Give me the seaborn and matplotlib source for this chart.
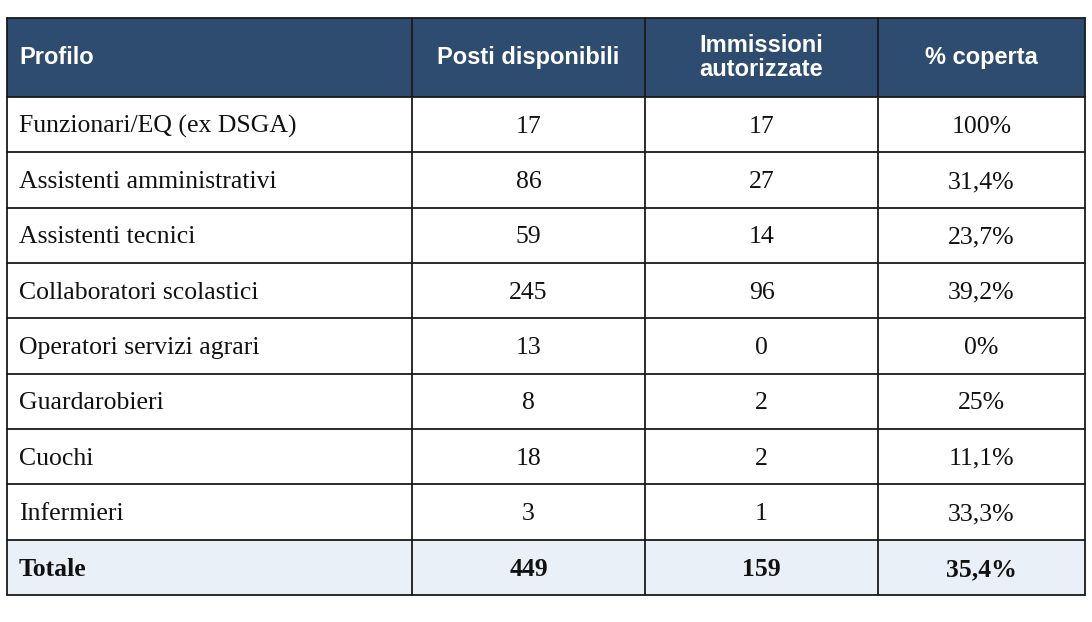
import matplotlib
matplotlib.use("Agg")
import matplotlib.pyplot as plt
import seaborn as sns
from matplotlib.patches import Rectangle

sns.set_theme(style="white")

headers = ["Profilo", "Posti disponibili", "Immissioni\nautorizzate", "% coperta"]
profili = ["Funzionari/EQ (ex DSGA)", "Assistenti amministrativi", "Assistenti tecnici",
           "Collaboratori scolastici", "Operatori servizi agrari", "Guardarobieri",
           "Cuochi", "Infermieri"]
posti = [17, 86, 59, 245, 13, 8, 18, 3]
immissioni = [17, 27, 14, 96, 0, 2, 2, 1]
coperta = ["100%", "31,4%", "23,7%", "39,2%", "0%", "25%", "11,1%", "33,3%"]
totale = ["Totale", "449", "159", "35,4%"]

W, H = 1092, 622
fig = plt.figure(figsize=(W / 100, H / 100), dpi=100)
ax = fig.add_axes([0, 0, 1, 1])
ax.set_xlim(0, W)
ax.set_ylim(H, 0)
ax.axis("off")

cols = [7, 412, 645, 878, 1085]
top, head_bot, bot = 18, 97, 595
nrows = len(profili) + 1
rh = (bot - head_bot) / nrows
header_c = "#2E4B70"
total_c = "#EAF0F7"
line_c = "#1a1a1a"

ax.add_patch(Rectangle((cols[0], top), cols[-1] - cols[0], head_bot - top, facecolor=header_c, edgecolor="none"))
ax.add_patch(Rectangle((cols[0], head_bot + rh * (nrows - 1)), cols[-1] - cols[0], rh, facecolor=total_c, edgecolor="none"))

for i, h in enumerate(headers):
    kw = dict(va="center", color="white", fontsize=17, fontweight="bold",
              family="Liberation Sans", linespacing=1.05)
    if i == 0:
        ax.text(cols[0] + 12, (top + head_bot) / 2, h, ha="left", **kw)
    else:
        ax.text((cols[i] + cols[i + 1]) / 2, (top + head_bot) / 2, h, ha="center", **kw)

rows = [[p, str(a), str(b), c] for p, a, b, c in zip(profili, posti, immissioni, coperta)] + [totale]
for r, row in enumerate(rows):
    yc = head_bot + rh * (r + 0.5) + 2
    bold = r == len(rows) - 1
    for i, v in enumerate(row):
        kw = dict(va="center", color="#111111", fontsize=18.5, family="Liberation Serif",
                  fontweight="bold" if bold else "normal")
        if i == 0:
            ax.text(cols[0] + 12, yc, v, ha="left", **kw)
        else:
            ax.text((cols[i] + cols[i + 1]) / 2, yc, v, ha="center", **kw)

for r in range(nrows + 1):
    y = head_bot + rh * r
    ax.plot([cols[0], cols[-1]], [y, y], color=line_c, lw=1.3)
ax.plot([cols[0], cols[-1]], [top, top], color=line_c, lw=1.3)
for x in cols:
    ax.plot([x, x], [top, bot], color=line_c, lw=1.3)

fig.savefig("out.png", dpi=100)
